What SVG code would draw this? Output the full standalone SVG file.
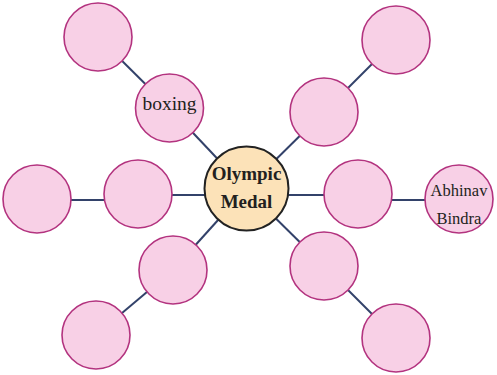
<svg xmlns="http://www.w3.org/2000/svg" width="497" height="375" viewBox="0 0 497 375">
<style>
.c{fill:#f8d0e6;stroke:#b3337f;stroke-width:1.6}
.m{fill:#fce2b8;stroke:#222;stroke-width:2}
.l{stroke:#33426a;stroke-width:2;fill:none}
.t{font-family:"Liberation Serif",serif;fill:#231f20;text-anchor:middle}
.b{font-weight:bold;font-size:19px}
</style>
<rect width="497" height="375" fill="#fff"/>
<g id="connectors">
<line class="l" x1="246" y1="189" x2="169.5" y2="108"/>
<line class="l" x1="169.5" y1="108" x2="98" y2="37"/>
<line class="l" x1="246" y1="189" x2="324" y2="112"/>
<line class="l" x1="324" y1="112" x2="396" y2="40"/>
<line class="l" x1="37" y1="200" x2="138" y2="200"/>
<line class="l" x1="138" y1="195" x2="246" y2="195"/>
<line class="l" x1="246" y1="195" x2="358" y2="195"/>
<line class="l" x1="358" y1="200" x2="459" y2="200"/>
<line class="l" x1="246" y1="189" x2="173" y2="270"/>
<line class="l" x1="173" y1="270" x2="96" y2="335"/>
<line class="l" x1="246" y1="189" x2="324" y2="266"/>
<line class="l" x1="324" y1="266" x2="396" y2="338"/>
</g>
<g id="n-tl"><circle class="c" cx="98" cy="37" r="34"/></g>
<g id="n-boxing"><circle class="c" cx="169.5" cy="108" r="34"/><text class="t" x="169.5" y="110" style="font-size:19.5px">boxing</text></g>
<g id="n-tr-outer"><circle class="c" cx="396" cy="40" r="34"/></g>
<g id="n-tr-inner"><circle class="c" cx="324" cy="112" r="34"/></g>
<g id="n-l-outer"><circle class="c" cx="37" cy="199" r="34"/></g>
<g id="n-l-inner"><circle class="c" cx="138" cy="194" r="34"/></g>
<g id="n-r-inner"><circle class="c" cx="358" cy="194" r="34"/></g>
<g id="n-abhinav"><circle class="c" cx="459" cy="199" r="34"/><text class="t" x="459" y="196" style="font-size:16.5px">Abhinav</text><text class="t" x="459" y="224" style="font-size:16.5px">Bindra</text></g>
<g id="n-bl-inner"><circle class="c" cx="173" cy="270" r="34"/></g>
<g id="n-bl-outer"><circle class="c" cx="96" cy="335" r="34"/></g>
<g id="n-br-inner"><circle class="c" cx="324" cy="266" r="34"/></g>
<g id="n-br-outer"><circle class="c" cx="396" cy="338" r="34"/></g>
<g id="n-center"><circle class="m" cx="246.5" cy="188.5" r="42"/><text class="t b" x="246.5" y="180">Olympic</text><text class="t b" x="246.5" y="208">Medal</text></g>
</svg>
